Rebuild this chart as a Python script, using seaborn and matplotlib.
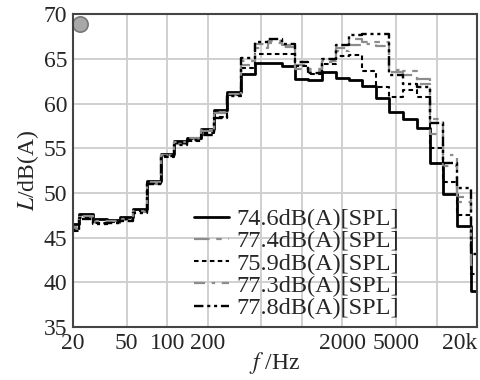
import numpy as np
import pandas as pd
import matplotlib
matplotlib.use("Agg")
import matplotlib.pyplot as plt
import seaborn as sns

# 1/3-octave band centre frequencies (Hz)
freqs = [20, 25, 31.5, 40, 50, 63, 80, 100, 125, 160, 200, 250, 315, 400, 500,
         630, 800, 1000, 1250, 1600, 2000, 2500, 3150, 4000, 5000, 6300, 8000,
         10000, 12500, 16000, 20000]

labels = ["74.6dB(A)[SPL]", "77.4dB(A)[SPL]", "75.9dB(A)[SPL]",
          "77.3dB(A)[SPL]", "77.8dB(A)[SPL]"]

s1 = [46.5, 47.6, 47.1, 47.0, 47.3, 48.2, 51.3, 54.4, 55.8, 56.2, 57.2, 59.3, 61.3,
      63.3, 64.5, 64.5, 64.2, 62.7, 62.6, 63.5, 62.8, 62.6, 62.0, 60.6, 59.0, 58.3,
      57.3, 53.3, 49.9, 46.3, 39.0]
s2 = [46.0, 47.3, 46.8, 46.7, 47.0, 47.9, 51.0, 54.2, 55.5, 56.0, 56.9, 58.9, 61.0,
      64.3, 66.6, 67.0, 66.5, 64.3, 63.6, 64.7, 66.2, 67.2, 66.9, 66.9, 63.5, 63.6,
      62.7, 58.3, 53.0, 49.5, 42.5]
s3 = [45.8, 47.2, 46.6, 46.8, 47.1, 48.0, 51.1, 54.0, 55.6, 55.8, 56.7, 58.5, 60.9,
      64.0, 65.5, 65.5, 65.5, 64.2, 63.3, 64.4, 65.3, 65.4, 63.6, 61.8, 60.7, 61.5,
      60.7, 55.0, 51.2, 47.5, 41.0]
s4 = [46.2, 47.4, 46.9, 46.9, 47.1, 48.0, 51.2, 54.3, 55.7, 56.1, 57.0, 59.0, 61.1,
      64.8, 66.2, 66.8, 66.3, 63.9, 63.9, 64.6, 65.9, 66.5, 66.6, 66.4, 63.7, 63.2,
      62.2, 56.6, 54.2, 49.0, 42.0]
s5 = [45.9, 47.1, 46.5, 46.6, 46.9, 47.8, 51.0, 54.1, 55.4, 55.9, 56.5, 58.4, 60.8,
      65.1, 66.9, 67.2, 66.6, 64.6, 63.4, 65.0, 66.5, 67.7, 67.8, 67.8, 63.2, 62.2,
      61.8, 57.8, 53.4, 50.6, 43.2]

xtick_vals = [20, 50, 100, 200, 500, 1000, 2000, 5000, 10000, 20000]
xtick_labels = ["20", "50", "100", "200", "", "", "2000", "5000", "", "20k"]
ytick_vals = [35, 40, 45, 50, 55, 60, 65, 70]

series = [s1, s2, s3, s4, s5]

# band edges (geometric)
fc = np.array(freqs, dtype=float)
inner = np.sqrt(fc[:-1] * fc[1:])
lower = np.concatenate([[fc[0] / 2 ** (1 / 6)], inner])
upper_last = fc[-1] * 2 ** (1 / 6)

sns.set_style("white")
plt.rcParams["font.family"] = ["Liberation Serif", "DejaVu Serif"]
plt.rcParams["mathtext.fontset"] = "stix"

fig = plt.figure(figsize=(4.8, 3.8), dpi=100)
ax = fig.add_axes([0.152, 0.139, 0.842, 0.824])

styles = [
    dict(color="black", lw=2.0, dashes=None),
    dict(color="#8c8c8c", lw=1.6, dashes=(7, 3, 2.5, 3)),
    dict(color="black", lw=1.5, dashes=(2.2, 1.6)),
    dict(color="#8c8c8c", lw=1.6, dashes=(5, 3, 1.5, 3)),
    dict(color="black", lw=1.7, dashes=(4, 1.6, 1.3, 1.6, 1.3, 1.6)),
]

for vals, lab, st in zip(series, labels, styles):
    x = np.concatenate([lower, [upper_last]])
    y = np.concatenate([vals, [vals[-1]]])
    df = pd.DataFrame({"f": x, "L": y})
    sns.lineplot(data=df, x="f", y="L", ax=ax, color=st["color"], lw=st["lw"],
                 drawstyle="steps-post", estimator=None, label=lab, sort=True)
    line = ax.lines[-1]
    if st["dashes"] is not None:
        line.set_dashes(st["dashes"])

ax.set_xscale("log")
ax.set_xlim(20, 20000)
ax.set_ylim(35, 70)
ax.set_xticks(xtick_vals)
ax.set_xticklabels(xtick_labels)
ax.xaxis.set_minor_locator(matplotlib.ticker.NullLocator())
tl = ax.get_xticklabels()
tl[-1].set_horizontalalignment("right")
ax.set_yticks(ytick_vals)
ax.tick_params(axis="both", labelsize=17, length=3, width=1, color="#555555",
               pad=1, direction="out")
ax.grid(True, color="#d0d0d0", lw=1.4)
for sp in ax.spines.values():
    sp.set_color("#444444")
    sp.set_linewidth(1.5)

ax.set_xlabel("$f$ /Hz", fontsize=17, labelpad=-3)
ax.set_ylabel("$L$/dB(A)", fontsize=17, labelpad=2)

# decorative grey marker at top-left
ax.plot([0.018], [0.968], marker="o", ms=11, color="#a8a8a8", mec="#777777",
        mew=1.2, transform=ax.transAxes, clip_on=False)

leg = ax.legend(loc="upper left", bbox_to_anchor=(0.3, 0.38), frameon=False,
                fontsize=17.5, handlelength=1.45, handletextpad=0.3,
                labelspacing=0.01, borderpad=0, borderaxespad=0)

fig.savefig("out.png", dpi=100)
